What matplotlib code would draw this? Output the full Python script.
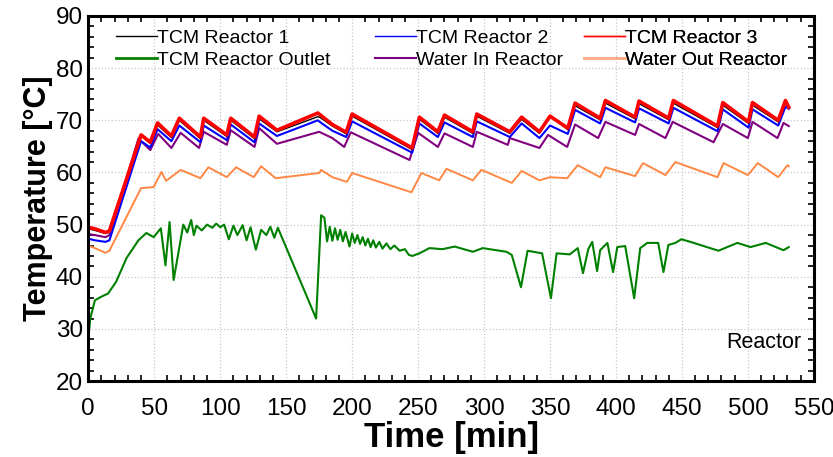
import matplotlib
matplotlib.use("Agg")
import matplotlib.pyplot as plt
from matplotlib.ticker import MultipleLocator
from matplotlib.lines import Line2D

plt.rcParams['font.family'] = ['Liberation Sans', 'DejaVu Sans']

# ---- data ----
t_r3 = [0, 5, 13, 16, 40, 47, 52.5, 63, 69, 85, 87.5, 105, 108, 126, 129.5, 143, 174, 176, 185,
        195.5, 200, 245.5, 251, 265, 270, 291.5, 294.5, 319.5, 328.5, 342, 350, 363.5, 369, 388,
        392, 414.5, 417.5, 440, 443.5, 477, 481, 500.5, 503.5, 523, 528.5, 531]
v_r3 = [49.5, 49.2, 48.5, 48.8, 67.2, 65.8, 69.5, 67.0, 70.4, 66.8, 70.4, 67.2, 70.4, 66.8, 70.8,
        68.1, 71.4, 71.0, 69.2, 67.7, 71.2, 64.7, 70.6, 67.8, 71.0, 67.8, 71.2, 67.8, 70.6, 67.8,
        70.8, 68.5, 73.3, 70.4, 73.8, 70.6, 73.7, 70.4, 73.8, 68.9, 73.4, 69.7, 73.4, 70.0, 73.8, 72.5]
v_r1 = [49.2, 48.9, 48.3, 48.6, 67.0, 65.6, 69.1, 66.7, 70.0, 66.5, 70.0, 66.9, 70.0, 66.5, 70.3,
        67.8, 70.7, 70.5, 68.9, 67.4, 70.8, 64.4, 70.2, 67.5, 70.6, 67.5, 70.8, 67.5, 70.2, 67.5,
        70.9, 68.2, 72.8, 70.1, 73.3, 70.3, 73.2, 70.1, 73.3, 68.6, 72.9, 69.4, 72.9, 69.7, 73.3, 72.3]
v_r2 = [47.3, 47.0, 46.7, 47.0, 66.0, 64.8, 68.3, 66.0, 69.0, 65.8, 69.0, 66.2, 69.2, 65.8, 69.4,
        67.0, 70.0, 69.6, 68.0, 66.8, 69.8, 63.8, 69.4, 66.8, 69.6, 66.8, 69.8, 66.8, 69.4, 66.6,
        69.0, 67.4, 72.0, 69.4, 72.4, 69.6, 72.3, 69.4, 72.4, 67.9, 72.1, 68.6, 72.1, 69.0, 72.6, 72.2]

t_win = [0, 5, 13, 16, 38, 47, 53, 63, 70, 84, 87.5, 105, 108, 126, 129.5, 143, 175, 185, 194, 199,
         243.5, 250, 265, 270, 291.5, 294.5, 318, 319.5, 342, 348.5, 363, 369, 386.5, 392, 414.5,
         417.5, 437.5, 443, 474, 481, 500, 503.5, 522.5, 527, 531]
v_win = [48.2, 48.0, 47.6, 48.0, 66.5, 64.3, 67.4, 64.7, 67.6, 64.7, 67.8, 65.3, 68.1, 64.9, 68.5,
         65.5, 67.8, 66.6, 64.9, 67.7, 62.4, 67.6, 64.9, 67.5, 64.9, 67.8, 65.3, 66.6, 64.7, 67.2,
         64.9, 69.2, 66.6, 69.7, 67.2, 69.3, 66.6, 69.7, 65.8, 69.3, 66.6, 69.7, 66.6, 69.5, 68.9]

t_wout = [0, 5, 13, 16, 40, 49.5, 55.5, 59, 70, 85, 91, 105, 112, 125.5, 131, 142, 175, 176.5, 185,
          196, 200, 245, 252.5, 266, 271.5, 291.5, 298, 321, 328.5, 342, 350, 363, 371, 388, 392,
          414.5, 420.5, 437.5, 445, 477, 481.5, 500, 507.5, 523, 530, 531]
v_wout = [46.0, 45.5, 44.6, 45.0, 57.0, 57.2, 60.1, 58.4, 60.5, 58.9, 61.0, 59.1, 61.0, 59.1, 61.2,
          58.9, 59.9, 60.5, 59.1, 58.2, 59.9, 56.2, 59.9, 58.5, 60.7, 58.5, 60.5, 58.0, 60.3, 58.5,
          59.1, 58.9, 61.4, 59.1, 61.0, 59.3, 61.8, 59.5, 62.0, 59.1, 61.8, 59.5, 61.8, 59.1, 61.4, 61.2]

t_out = [0, 1.5, 5, 10, 15, 21, 29, 38, 44, 49.5, 55, 58.5, 61.6, 64.7, 72, 75, 78, 80, 82, 86, 90,
         94, 97, 100, 103, 106.5, 110, 113, 117, 120, 123, 127, 131, 135, 138, 141, 143.7, 172.7,
         176.5, 179, 181, 183, 185, 187, 189, 191, 193, 195, 198, 200, 202, 204, 206, 208, 210, 212,
         214, 216, 218, 220.6, 223, 226, 229, 232, 236, 240, 243, 245.7, 251, 258.6, 268.5, 277.7,
         291.5, 299, 317, 321, 328, 333, 344, 350.7, 355, 365, 371, 375, 379, 382, 385.7, 388, 393.5,
         397.8, 401, 407, 413.8, 418.4, 423.7, 432, 436, 439.7, 445, 449.6, 456.4, 477.7, 492, 502,
         513.5, 527, 531]
v_out = [28.0, 32.0, 35.5, 36.2, 36.8, 39.0, 43.6, 47.0, 48.4, 47.6, 49.3, 42.2, 50.5, 39.4, 50.0,
         48.5, 50.9, 48.0, 49.8, 48.9, 50.0, 49.4, 50.2, 49.5, 50.0, 47.2, 49.8, 48.0, 49.9, 47.0,
         49.5, 45.2, 49.0, 48.0, 49.6, 47.5, 49.4, 32.0, 51.8, 51.3, 46.8, 49.6, 46.9, 49.3, 47.1,
         49.0, 46.8, 48.6, 45.8, 48.3, 46.5, 48.0, 46.3, 47.6, 46.0, 47.3, 45.7, 47.0, 45.6, 46.7,
         45.4, 46.4, 45.3, 46.0, 45.0, 45.3, 44.2, 44.0, 44.5, 45.5, 45.3, 45.8, 44.8, 45.5, 44.8,
         44.2, 38.0, 45.0, 44.5, 35.9, 44.5, 44.3, 45.5, 40.7, 45.3, 46.7, 41.1, 45.1, 46.5, 40.9,
         45.7, 45.9, 35.9, 45.5, 46.5, 46.5, 40.9, 46.1, 46.5, 47.2, 46.7, 45.0, 46.5, 45.7, 46.5,
         45.1, 45.7]

x_ticks = [0, 50, 100, 150, 200, 250, 300, 350, 400, 450, 500, 550]
y_ticks = [20, 30, 40, 50, 60, 70, 80, 90]

c_r1, c_r2, c_r3 = 'black', '#0000ff', '#ff0000'
c_out, c_win, c_wout = '#008000', '#800080', '#ff8844'

fig = plt.figure(figsize=(8.33, 4.57), dpi=100)
ax = fig.add_axes([0.106, 0.166, 0.871, 0.799])

ax.plot(t_out, v_out, color=c_out, lw=1.5)
ax.plot(t_wout, v_wout, color=c_wout, lw=1.4)
ax.plot(t_win, v_win, color=c_win, lw=1.5)
ax.plot(t_r3, v_r2, color=c_r2, lw=1.5)
ax.plot(t_r3, v_r1, color=c_r1, lw=1.0)
ax.plot(t_r3, v_r3, color=c_r3, lw=2.6)

ax.set_xlim(0, 550)
ax.set_ylim(20, 90)
ax.set_xticks(x_ticks)
ax.set_yticks(y_ticks)
ax.xaxis.set_minor_locator(MultipleLocator(10))
ax.yaxis.set_minor_locator(MultipleLocator(2))
ax.tick_params(which='both', direction='in', top=True, right=True, labelsize=17.5, width=1.2)
ax.tick_params(which='major', length=0)
ax.tick_params(which='minor', length=4)
ax.tick_params(axis='x', which='major', pad=12)
ax.tick_params(axis='y', which='major', pad=4)
for s in ax.spines.values():
    s.set_linewidth(2.2)
ax.grid(True, which='major', color='#c8c8c8', ls=':', lw=0.9)
ax.set_axisbelow(True)

ax.set_xlabel('Time [min]', fontsize=25, fontweight='bold', labelpad=1)
ax.set_ylabel('Temperature [°C]', fontsize=22, fontweight='bold', labelpad=2)

ax.text(0.983, 0.105, 'Reactor', transform=ax.transAxes, ha='right', va='center', fontsize=15.5)

cols = [
    [('TCM Reactor 1', c_r1, 1.0), ('TCM Reactor Outlet', c_out, 2.0)],
    [('TCM Reactor 2', c_r2, 1.0), ('Water In Reactor', c_win, 1.5)],
    [('TCM Reactor 3', c_r3, 1.0), ('Water Out Reactor', '#ffb08a', 2.0)],
]
xpos = [0.022, 0.379, 0.667]
for i, col in enumerate(cols):
    handles = [Line2D([], [], color=c, lw=w) for _, c, w in col]
    labels = [l for l, _, _ in col]
    leg = ax.legend(handles, labels, loc='upper left', bbox_to_anchor=(xpos[i], 0.995),
                    frameon=False, fontsize=14, handlelength=2.1, handletextpad=0.0,
                    labelspacing=0.2, borderaxespad=0.2)
    ax.add_artist(leg)

fig.savefig('out.png', dpi=100)
